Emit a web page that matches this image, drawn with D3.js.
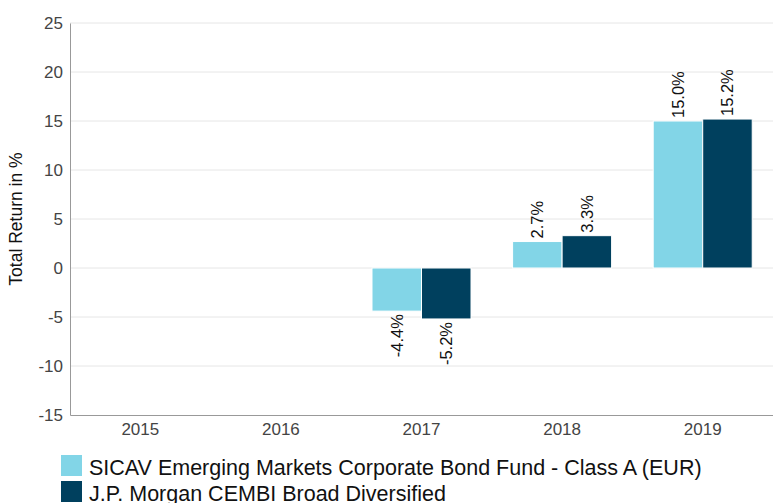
<!DOCTYPE html>
<html><head><meta charset="utf-8">
<script src="https://cdn.jsdelivr.net/npm/d3@7"></script>
<style>body{margin:0;background:#fff}svg{display:block}</style>
</head><body>
<svg id="c" width="773" height="503"></svg>
<script>
const categories = ["2015","2016","2017","2018","2019"];
const seriesNames = ["SICAV Emerging Markets Corporate Bond Fund - Class A (EUR)","J.P. Morgan CEMBI Broad Diversified"];
const fundValues = [null,null,-4.4,2.7,15.0];
const benchValues = [null,null,-5.2,3.3,15.2];
const yTicks = [-15,-10,-5,0,5,10,15,20,25];
const colors = ["#82d5e7","#00405e"];

const svg = d3.select("#c");
const font = "'Liberation Sans', Arial, sans-serif";
const m = {l:70, r:0, t:23, b:88};
const W = 773, H = 503;
const x = d3.scaleBand().domain(categories).range([m.l, W - m.r]);
const xi = d3.scaleBand().domain([0,1]).range([0, x.bandwidth()]).paddingOuter(0.42).paddingInner(0);
const y = d3.scaleLinear().domain([-15,25]).range([H - m.b, m.t]);
const fmt = d => String(d);

// grid
svg.append("g").selectAll("line").data(yTicks.filter(d=>d!==-15)).join("line")
  .attr("x1", m.l).attr("x2", W - m.r).attr("y1", d=>y(d)).attr("y2", d=>y(d))
  .attr("stroke", "#e6e6e6").attr("stroke-width", 1);

// y axis
const ya = svg.append("g").attr("transform", `translate(${m.l},0)`)
  .call(d3.axisLeft(y).tickValues(yTicks).tickFormat(fmt).tickSize(0).tickPadding(7));
ya.select(".domain").attr("stroke", "#999");
ya.selectAll("text").attr("font-family", font).attr("font-size", 17).attr("fill", "#444");

// x axis
const xa = svg.append("g").attr("transform", `translate(0,${y(-15)})`)
  .call(d3.axisBottom(x).tickSize(0).tickPadding(8));
xa.select(".domain").attr("stroke", "#999");
xa.selectAll("text").attr("font-family", font).attr("font-size", 17).attr("fill", "#444");

// bars
const data = [];
categories.forEach((c,i)=>{
  [fundValues[i], benchValues[i]].forEach((v,s)=>{ if (v !== null) data.push({c, s, v}); });
});
svg.append("g").selectAll("rect").data(data).join("rect")
  .attr("x", d=>x(d.c) + xi(d.s))
  .attr("width", xi.bandwidth())
  .attr("y", d=>y(Math.max(0,d.v)))
  .attr("height", d=>Math.abs(y(d.v) - y(0)))
  .attr("fill", d=>colors[d.s])
  .attr("stroke", "#fff").attr("stroke-width", 1);

// labels
svg.append("g").selectAll("text").data(data).join("text")
  .attr("transform", d=>{
    const cx = x(d.c) + xi(d.s) + xi.bandwidth()/2;
    return `translate(${cx + 6},${y(d.v) + (d.v >= 0 ? -3 : 3)}) rotate(-90)`;
  })
  .attr("text-anchor", d=>d.v >= 0 ? "start" : "end")
  .attr("font-family", font).attr("font-size", 16.5).attr("fill", "#111")
  .text(d=>d.v.toFixed(1) + "%");

// y title
svg.append("text")
  .attr("transform", `translate(22,${(y(25)+y(-15))/2}) rotate(-90)`)
  .attr("text-anchor", "middle")
  .attr("font-family", font).attr("font-size", 17.5).attr("fill", "#111")
  .text("Total Return in %");

// legend
const lg = svg.append("g").selectAll("g").data(seriesNames).join("g")
  .attr("transform", (d,i)=>`translate(61,${455 + i*26})`);
lg.append("rect").attr("width", 21).attr("height", 21).attr("fill", (d,i)=>colors[i]);
lg.append("text").attr("x", 28).attr("y", 20)
  .attr("font-family", font).attr("font-size", 21.5).attr("fill", "#111")
  .text(d=>d);
</script>
</body></html>
